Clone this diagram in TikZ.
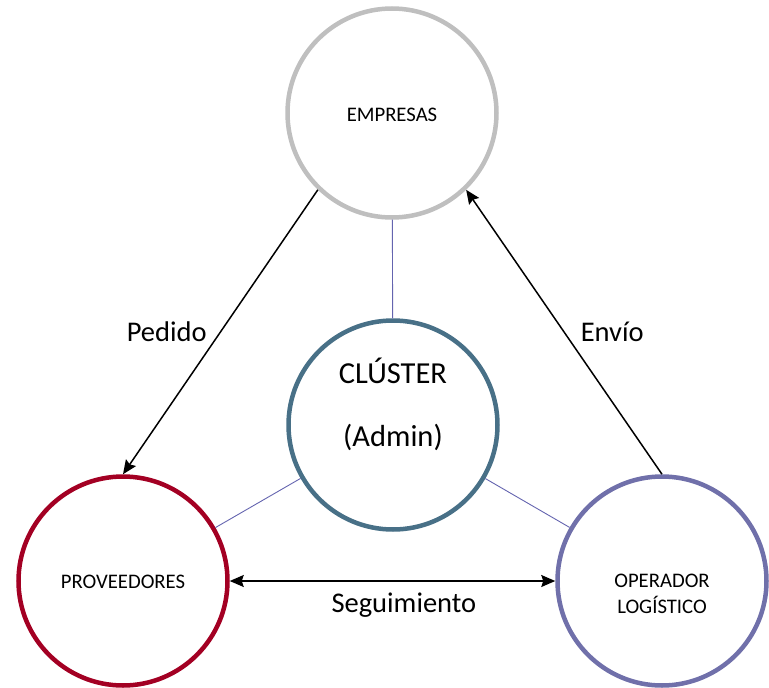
\documentclass[tikz,border=0pt]{standalone}
\usepackage{fontspec}
\setmainfont{Carlito}
\usetikzlibrary{arrows.meta}

\begin{document}
\begin{tikzpicture}[x=1pt,y=-1pt,
	actor/.style={circle,draw,line width=4.5pt,inner sep=0pt,minimum size=209pt,align=center,font=\fontsize{20.7}{25}\selectfont},
	flow/.style={line width=1.5pt,-{Stealth[length=14pt,width=12pt,inset=2pt]}},
	link/.style={draw=LNK,line width=0.9pt},
	tag/.style={inner sep=2pt,font=\fontsize{28.5}{34}\selectfont}]
\definecolor{EMP}{RGB}{191,191,191}
\definecolor{CLU}{RGB}{72,112,135}
\definecolor{PRO}{RGB}{163,0,35}
\definecolor{OPE}{RGB}{112,112,170}
\definecolor{LNK}{RGB}{100,100,175}

\useasboundingbox (0,0) rectangle (769,688);

% Actors
\node[actor,draw=EMP] (empresas) at (392,113) {};
\node[actor,draw=CLU] (cluster) at (393,425) {};
\node[actor,draw=PRO] (proveedores) at (123,581) {};
\node[actor,draw=OPE] (operador) at (662,581) {};

% Actor names
\node[align=center,font=\fontsize{20.7}{25}\selectfont,anchor=base] (empresasname) at (392,121) {EMPRESAS};
\node[align=center,font=\fontsize{20.7}{25}\selectfont,anchor=base] (proveedoresname) at (123,588) {PROVEEDORES};
\node[align=center,font=\fontsize{20.7}{25.5}\selectfont] (operadorname) at (662,594) {OPERADOR\\LOGÍSTICO};
\node[tag,anchor=base,font=\fontsize{30.5}{36}\selectfont] (clustername) at (393,383) {CLÚSTER};
\node[tag,anchor=base,font=\fontsize{30.5}{36}\selectfont] (clusterrole) at (393,446) {(Admin)};

% Links to the cluster
\foreach \n in {empresas,proveedores,operador}{
	\draw[link] (cluster) -- (\n);
}

% Flows
\draw[flow] (empresas.226) -- node[tag,left=11pt,pos=0.5] (pedido) {Pedido} (proveedores.north);
\draw[flow] (operador.north) -- node[tag,right=14pt,pos=0.5] (envio) {Envío} (empresas.314);
\draw[flow,{Stealth[length=14pt,width=12pt,inset=2pt]}-{Stealth[length=14pt,width=12pt,inset=2pt]}] (proveedores.east) -- node[tag,below=9pt,pos=0.535] (seguimiento) {Seguimiento} (operador.west);

\end{tikzpicture}
\end{document}
